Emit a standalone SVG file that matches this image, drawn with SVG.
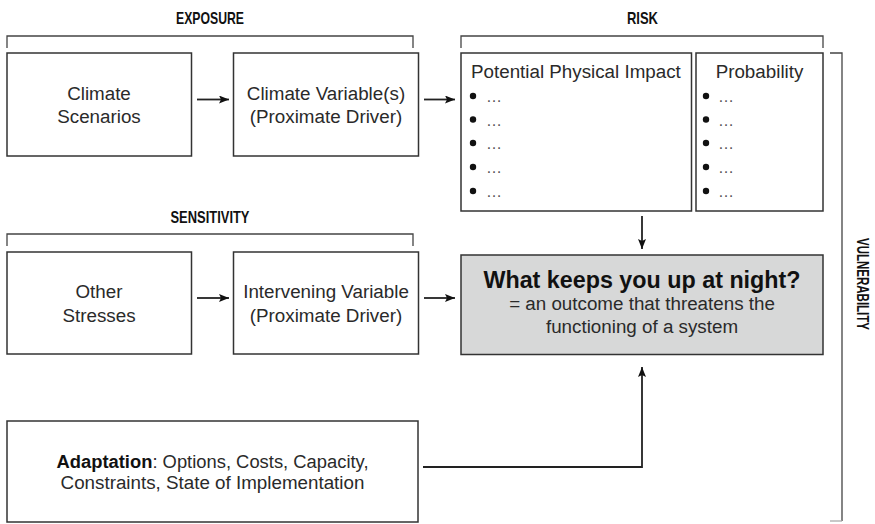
<svg xmlns="http://www.w3.org/2000/svg" width="875" height="524" viewBox="0 0 875 524">
<style>
.box{fill:#fff;stroke:#333;stroke-width:1.5}
.gbox{fill:#d7d8d8;stroke:#333;stroke-width:1.5}
.br{fill:none;stroke:#444;stroke-width:1.3}
.t{font-family:"Liberation Sans",Arial,sans-serif;font-size:18.8px;fill:#2a2a2a}
.c{text-anchor:middle}
.h{font-family:"Liberation Sans Narrow","Liberation Sans",Arial,sans-serif;font-weight:bold;font-size:17px;fill:#111}
.b{fill:#111}
.el{font-family:"Liberation Sans",Arial,sans-serif;font-size:16px;fill:#555}
.ln{fill:none;stroke:#222;stroke-width:1.8}
</style>
<defs>
<marker id="ah" markerUnits="userSpaceOnUse" markerWidth="11" markerHeight="9" refX="10" refY="4" orient="auto">
<path d="M0,0 L10,4 L0,8 L2,4 z" fill="#111"/>
</marker>
</defs>

<g id="brackets">
<path class="br" d="M7,48 V36 H413 V48"/>
<text class="h c" x="210" y="24" textLength="68" lengthAdjust="spacingAndGlyphs">EXPOSURE</text>
<path class="br" d="M461,48 V36 H823 V48"/>
<text class="h c" x="642.5" y="24" textLength="31" lengthAdjust="spacingAndGlyphs">RISK</text>
<path class="br" d="M7,246 V234 H413 V246"/>
<text class="h c" x="210" y="223" textLength="79" lengthAdjust="spacingAndGlyphs">SENSITIVITY</text>
<path class="br" d="M830,53 H842 V521"/>
<path d="M830,521 H842" fill="none" stroke="#aaa" stroke-width="1.3"/>
<text class="h c" transform="translate(857,284) rotate(90)" x="0" y="0" textLength="92" lengthAdjust="spacingAndGlyphs">VULNERABILITY</text>
</g>

<g id="climate-scenarios">
<rect class="box" x="7" y="53" width="184.5" height="103"/>
<text class="t c" x="99" y="100">Climate</text>
<text class="t c" x="99" y="123">Scenarios</text>
</g>

<g id="climate-variables">
<rect class="box" x="233.5" y="53" width="185" height="103"/>
<text class="t c" x="326" y="100">Climate Variable(s)</text>
<text class="t c" x="326" y="123">(Proximate Driver)</text>
</g>

<g id="potential-impact">
<rect class="box" x="461" y="53" width="230.5" height="158"/>
<text class="t" x="471" y="78">Potential Physical Impact</text>
<circle class="b" cx="473" cy="96" r="3.2"/><text class="el" x="486" y="102">…</text>
<circle class="b" cx="473" cy="119.5" r="3.2"/><text class="el" x="486" y="125.5">…</text>
<circle class="b" cx="473" cy="143" r="3.2"/><text class="el" x="486" y="149">…</text>
<circle class="b" cx="473" cy="167" r="3.2"/><text class="el" x="486" y="173">…</text>
<circle class="b" cx="473" cy="191" r="3.2"/><text class="el" x="486" y="197">…</text>
</g>

<g id="probability">
<rect class="box" x="696" y="53" width="127" height="158"/>
<text class="t c" x="759.5" y="78">Probability</text>
<circle class="b" cx="706" cy="96" r="3.2"/><text class="el" x="718" y="102">…</text>
<circle class="b" cx="706" cy="119.5" r="3.2"/><text class="el" x="718" y="125.5">…</text>
<circle class="b" cx="706" cy="143" r="3.2"/><text class="el" x="718" y="149">…</text>
<circle class="b" cx="706" cy="167" r="3.2"/><text class="el" x="718" y="173">…</text>
<circle class="b" cx="706" cy="191" r="3.2"/><text class="el" x="718" y="197">…</text>
</g>

<g id="other-stresses">
<rect class="box" x="7" y="252" width="184.5" height="102"/>
<text class="t c" x="99" y="298">Other</text>
<text class="t c" x="99" y="322">Stresses</text>
</g>

<g id="intervening-variable">
<rect class="box" x="233.5" y="252" width="185" height="102"/>
<text class="t c" x="326" y="298">Intervening Variable</text>
<text class="t c" x="326" y="322">(Proximate Driver)</text>
</g>

<g id="outcome">
<rect class="gbox" x="461" y="255" width="362" height="99.5"/>
<text class="c" x="642" y="288" font-family="'Liberation Sans',Arial,sans-serif" font-weight="bold" font-size="23.3px" fill="#111">What keeps you up at night?</text>
<text class="t c" x="642" y="310">= an outcome that threatens the</text>
<text class="t c" x="642" y="333">functioning of a system</text>
</g>

<g id="adaptation">
<rect class="box" x="7" y="421" width="411" height="101"/>
<text class="t c" x="212.5" y="468" textLength="312" lengthAdjust="spacingAndGlyphs"><tspan font-weight="bold" fill="#111">Adaptation</tspan>: Options, Costs, Capacity,</text>
<text class="t c" x="212.5" y="489">Constraints, State of Implementation</text>
</g>

<g id="connectors">
<line class="ln" x1="197" y1="99.5" x2="229" y2="99.5" marker-end="url(#ah)"/>
<line class="ln" x1="424" y1="99.5" x2="455" y2="99.5" marker-end="url(#ah)"/>
<line class="ln" x1="197" y1="298" x2="229" y2="298" marker-end="url(#ah)"/>
<line class="ln" x1="424" y1="298" x2="455" y2="298" marker-end="url(#ah)"/>
<line class="ln" x1="642" y1="216" x2="642" y2="249" marker-end="url(#ah)"/>
<polyline class="ln" points="423,467 642,467 642,367" marker-end="url(#ah)"/>
</g>
</svg>
